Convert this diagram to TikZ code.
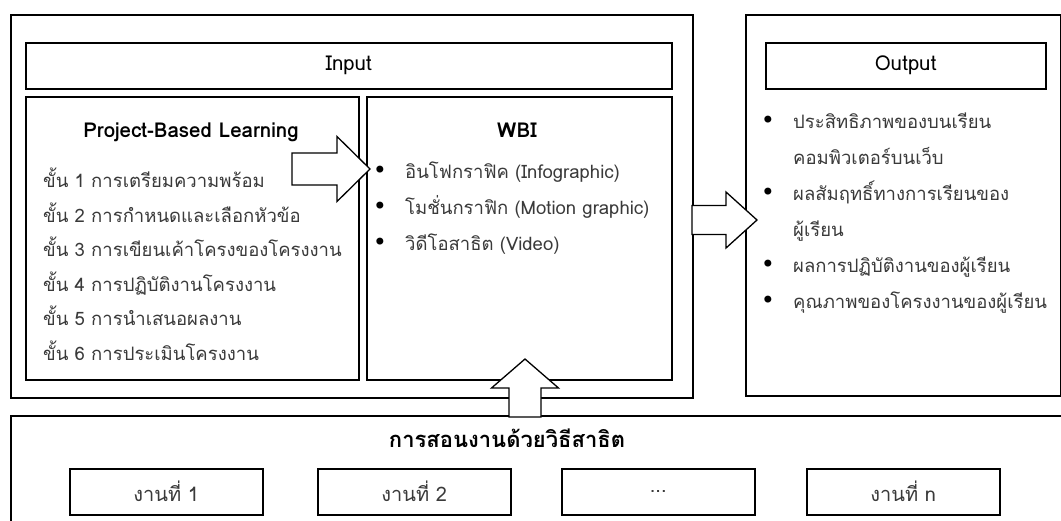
\documentclass[tikz,border=0pt]{standalone}
\usepackage{fontspec}
\setmainfont[Script=Thai]{Loma}
\newfontfamily\symfont{DejaVu Sans}
\usepackage{tikz}
\usetikzlibrary{calc}
\definecolor{txtgray}{HTML}{3A3A3A}
\tikzset{
    boxnode/.style={draw=black, line width=1.5pt, inner sep=0pt, anchor=north west, fill=white},
    headnode/.style={boxnode, font=\fontsize{20.5}{24}\selectfont},
    tasknode/.style={boxnode, text=txtgray, minimum width=193, minimum height=46, font=\fontsize{20}{24}\selectfont},
    blockarrow/.style={draw=black, line width=1.3pt, fill=white, line join=miter},
    titletext/.style={inner sep=0pt, anchor=base, font=\fontsize{20.5}{24}\selectfont\bfseries},
    bodytext/.style={inner sep=0pt, anchor=base west, text=txtgray, font=\fontsize{18.5}{22}\selectfont},
    dottext/.style={inner sep=0pt, anchor=base, font=\symfont\fontsize{24}{28}\selectfont},
}
% block arrow: tail, tip, half shaft, half head, head length
\newcommand{\blockarrow}[5]{%
    \coordinate (hb) at ($(#2)!#5!(#1)$);
    \draw[blockarrow] ($(#1)!#3!90:(#2)$) -- ($(hb)!#3!-90:(#1)$) -- ($(hb)!#4!-90:(#1)$) -- (#2)
        -- ($(hb)!#4!90:(#1)$) -- ($(hb)!#3!90:(#1)$) -- ($(#1)!#3!-90:(#2)$) -- cycle;
}

\begin{document}
\begin{tikzpicture}[x=1pt, y=-1pt]
    \useasboundingbox (0,0) rectangle (1061,520);
    \clip (0,0) rectangle (1061,520);
    % input side
    \node[boxnode, minimum width=682, minimum height=383] (inputbox) at (10,14) {};
    \node[headnode, minimum width=646, minimum height=46] (inputhead) at (25,42) {Input};
    \node[boxnode, minimum width=333, minimum height=283] (pblbox) at (25,96) {};
    \node[boxnode, minimum width=305, minimum height=283] (wbibox) at (366,96) {};
    % output side
    \node[boxnode, minimum width=315, minimum height=381] (outputbox) at (745,14) {};
    \node[headnode, minimum width=280, minimum height=46] (outputhead) at (765,42) {Output};
    % demonstration
    \node[boxnode, minimum width=1080, minimum height=140] (demobox) at (10,415) {};
    \node[titletext, font=\fontsize{22}{26}\selectfont\bfseries] (demotitle) at (507,447) {การสอนงานด้วยวิธีสาธิต};
    \node[tasknode] (task1) at (69,468) {งานที่ 1};
    \node[tasknode] (task2) at (317,468) {งานที่ 2};
    \node[tasknode] (task3) at (561,468) {...};
    \node[tasknode] (task4) at (806,468) {งานที่ n};

    % Project-Based Learning
    \node[titletext] (pbltitle) at (191,137) {Project-Based Learning};
    \node[bodytext] (step1) at (43,187) {ขั้น 1 การเตรียมความพร้อม};
    \node[bodytext] (step2) at (43,222) {ขั้น 2 การกำหนดและเลือกหัวข้อ};
    \node[bodytext] (step3) at (43,256) {ขั้น 3 การเขียนเค้าโครงของโครงงาน};
    \node[bodytext] (step4) at (43,291) {ขั้น 4 การปฏิบัติงานโครงงาน};
    \node[bodytext] (step5) at (43,325) {ขั้น 5 การนำเสนอผลงาน};
    \node[bodytext] (step6) at (43,360) {ขั้น 6 การประเมินโครงงาน};

    % WBI
    \node[titletext] (wbititle) at (517,137) {WBI};
    \node[dottext] (wbidot1) at (380,178) {•};
    \node[bodytext] (wbi1) at (405,178) {อินโฟกราฟิค (Infographic)};
    \node[dottext] (wbidot2) at (380,214) {•};
    \node[bodytext] (wbi2) at (405,214) {โมชั่นกราฟิก (Motion graphic)};
    \node[dottext] (wbidot3) at (380,250) {•};
    \node[bodytext] (wbi3) at (405,250) {วิดีโอสาธิต (Video)};

    % Output list
    \node[dottext] (outdot1) at (768,128) {•};
    \node[bodytext] (out1) at (793,128) {ประสิทธิภาพของบนเรียน};
    \node[bodytext] (out2) at (793,164) {คอมพิวเตอร์บนเว็บ};
    \node[dottext] (outdot2) at (768,200) {•};
    \node[bodytext] (out3) at (793,200) {ผลสัมฤทธิ์ทางการเรียนของ};
    \node[bodytext] (out4) at (793,236) {ผู้เรียน};
    \node[dottext] (outdot3) at (768,272) {•};
    \node[bodytext] (out5) at (793,272) {ผลการปฏิบัติงานของผู้เรียน};
    \node[dottext] (outdot4) at (768,308) {•};
    \node[bodytext] (out6) at (793,308) {คุณภาพของโครงงานของผู้เรียน};

    % block arrows
    \coordinate (pbltail) at (292,169);
    \coordinate (wbitip) at (370,169);
    \coordinate (inputtail) at (692,220);
    \coordinate (outputtip) at (757,220);
    \coordinate (demotail) at (525,417);
    \coordinate (wbibase) at (525,359);
    \blockarrow{pbltail}{wbitip}{16pt}{32.5pt}{33pt}
    \blockarrow{inputtail}{outputtip}{14.5pt}{28pt}{31pt}
    \blockarrow{demotail}{wbibase}{16pt}{33.5pt}{29pt}
\end{tikzpicture}
\end{document}
